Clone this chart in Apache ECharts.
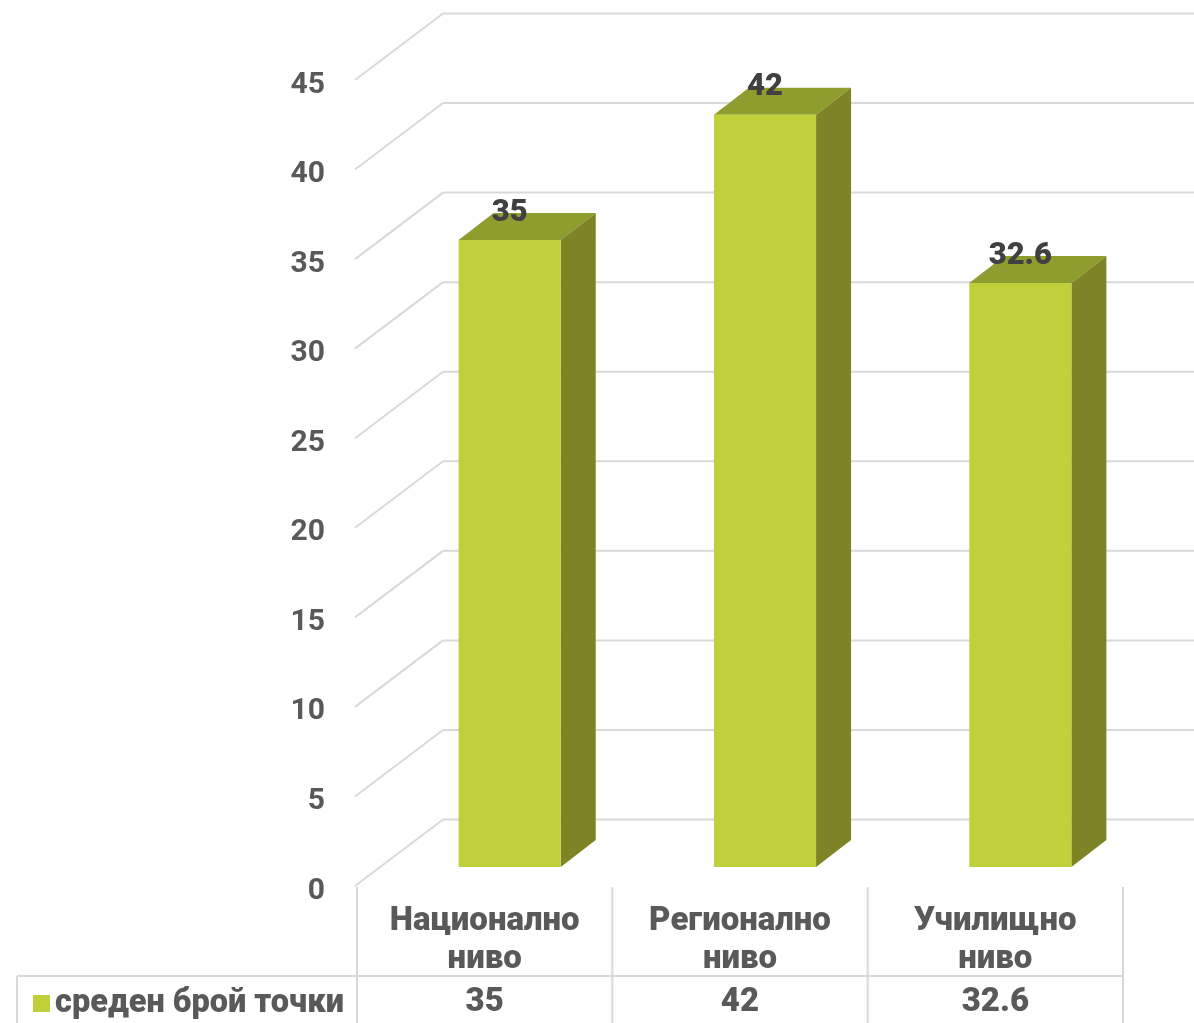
<!DOCTYPE html>
<html><head><meta charset="utf-8">
<script src="https://cdn.jsdelivr.net/npm/echarts@6/dist/echarts.min.js"></script>
<style>html,body{margin:0;padding:0;background:#fff}#c{width:1194px;height:1023px}</style>
</head><body><div id="c"></div>
<script>
const categories = ['Национално ниво', 'Регионално ниво', 'Училищно ниво'];
const values = [35, 42, 32.6];
const seriesName = 'среден брой точки';
const yTicks = [0, 5, 10, 15, 20, 25, 30, 35, 40, 45];

const FONT = 'Roboto';
const GRAY = '#595959';
const GRID = '#d9d9d9';
const DEPTH_X = 88, DEPTH_Y = -66.5;
const BAR_OFF_X = 25, BAR_OFF_Y = -19;
const BAR_DX = 35, BAR_DY = -27;
const FRONT = '#c0cf3a', TOP = '#8f9c2e', SIDE = '#7e8425';
const TW = 900, TS = 33;

const chart = echarts.init(document.getElementById('c'));
chart.setOption({
  animation: false,
  grid: { left: 357, right: 71, top: 80, bottom: 137, containLabel: false },
  legend: {
    data: [seriesName], left: 28, top: 982, icon: 'rect', itemWidth: 17, itemHeight: 17,
    textStyle: { fontFamily: FONT, fontWeight: TW, fontSize: 32.5, color: GRAY }
  },
  xAxis: [{
    type: 'category', data: categories, axisLine: { show: false }, axisTick: { show: false },
    axisLabel: { formatter: v => v.replace(' ', '\n'), margin: 17, lineHeight: 38,
      fontFamily: FONT, fontWeight: TW, fontSize: TS, color: GRAY }
  }, {
    type: 'category', data: categories, position: 'bottom', axisLine: { show: false }, axisTick: { show: false },
    axisLabel: { formatter: (v, i) => String(values[i]), margin: 98, lineHeight: 38,
      fontFamily: FONT, fontWeight: TW, fontSize: TS, color: GRAY }
  }],
  yAxis: {
    type: 'value', min: 0, max: 45, interval: 5,
    axisLine: { show: false }, axisTick: { show: false }, splitLine: { show: false },
    axisLabel: { margin: 32, formatter: v => '{a|' + v + '}',
      rich: { a: { padding: [10, 0, 0, 0], fontFamily: FONT, fontWeight: 'bold', fontSize: 30, color: GRAY } } }
  },
  series: [{
    type: 'custom', name: 'walls', silent: true, clip: false, legendHoverLink: false,
    data: yTicks.map(v => [0, v]),
    renderItem: (params, api) => {
      const gx = params.coordSys.x;
      const y = api.coord([0, api.value(1)])[1];
      const bx = gx + DEPTH_X - 2, by = y + DEPTH_Y;
      return { type: 'group', children: [
        { type: 'line', shape: { x1: gx - 2, y1: y, x2: bx, y2: by }, style: { stroke: GRID, lineWidth: 2 } },
        { type: 'line', shape: { x1: bx, y1: by, x2: 1300, y2: by }, style: { stroke: GRID, lineWidth: 2 } }
      ]};
    }
  }, {
    type: 'custom', name: seriesName, clip: false, itemStyle: { color: FRONT },
    data: values.map((v, i) => [i, v]),
    renderItem: (params, api) => {
      const i = api.value(0), v = api.value(1);
      const t = api.coord([i, v]), b = api.coord([i, 0]);
      const bandW = api.size([1, 0])[0];
      const bw = bandW * 0.4;
      const cx = t[0] + BAR_OFF_X;
      const xl = cx - bw / 2, xr = cx + bw / 2;
      const yt = t[1] + BAR_OFF_Y, yb = b[1] + BAR_OFF_Y;
      const children = [
        { type: 'polygon', shape: { points: [[xl, yt], [xr, yt], [xr + BAR_DX, yt + BAR_DY], [xl + BAR_DX, yt + BAR_DY]] }, style: { fill: TOP } },
        { type: 'polygon', shape: { points: [[xr, yt], [xr + BAR_DX, yt + BAR_DY], [xr + BAR_DX, yb + BAR_DY], [xr, yb]] }, style: { fill: SIDE } },
        { type: 'rect', shape: { x: xl, y: yt, width: bw, height: yb - yt }, style: { fill: FRONT } },
        { type: 'text', style: { text: String(v), x: cx, y: yt - 27, align: 'center', verticalAlign: 'middle',
            font: '900 31px ' + FONT, fill: '#404040' } }
      ];
      const left = b[0] - bandW / 2, right = b[0] + bandW / 2;
      const tableTop = b[1] + 1;
      const rowY = b[1] + 90;
      children.push({ type: 'line', shape: { x1: left, y1: tableTop, x2: left, y2: 1030 }, style: { stroke: GRID, lineWidth: 2 } });
      if (i === values.length - 1) {
        children.push({ type: 'line', shape: { x1: right, y1: tableTop, x2: right, y2: 1030 }, style: { stroke: GRID, lineWidth: 2 } });
      }
      if (i === 0) {
        children.push({ type: 'line', shape: { x1: 17, y1: rowY, x2: 17, y2: 1030 }, style: { stroke: GRID, lineWidth: 2 } });
        children.push({ type: 'line', shape: { x1: 17, y1: rowY, x2: left, y2: rowY }, style: { stroke: GRID, lineWidth: 2 } });
      }
      children.push({ type: 'line', shape: { x1: left, y1: rowY, x2: right, y2: rowY }, style: { stroke: GRID, lineWidth: 2 } });
      return { type: 'group', children };
    }
  }]
});
</script></body></html>
